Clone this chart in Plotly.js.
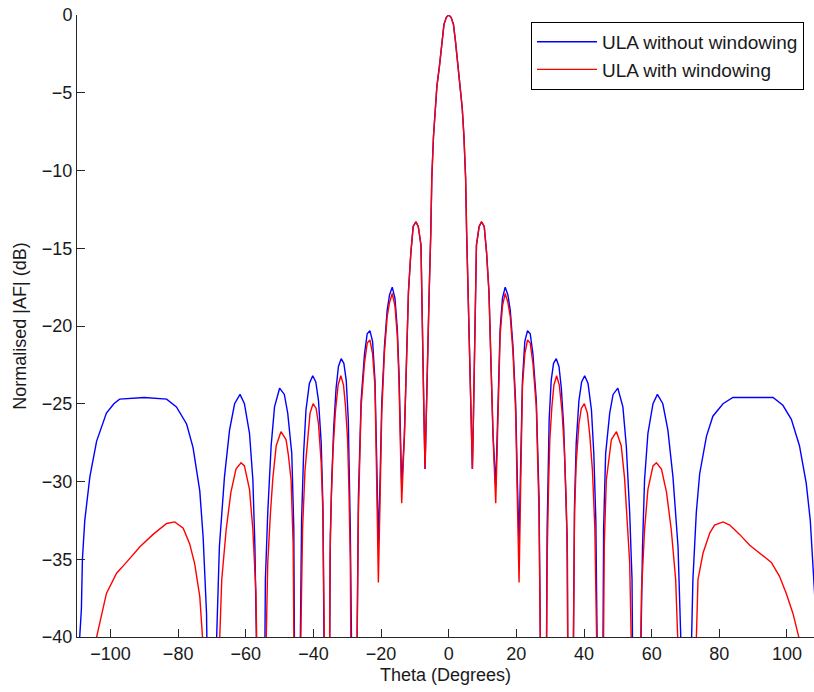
<!DOCTYPE html>
<html>
<head>
<meta charset="utf-8">
<script src="https://cdn.plot.ly/plotly-3.0.1.min.js"></script>
<style>
  html, body { margin: 0; padding: 0; background: #ffffff; }
  #chart { width: 814px; height: 692px; }
</style>
</head>
<body>
<div id="chart"></div>
<script>
// ULA without windowing (blue): theta (deg) and normalised |AF| (dB)
const thetaBlue = [
  -110, -109.1, -108.6, -108.3, -107.6, -106.1, -104.1, -101.2, -99.0, -97.3, -90.0, -83.4, -80.5, -77.5, -75.6, -73.6, -72.6, -71.6, -71.2, -70.3,
  -69.3, -67.8, -66.3, -64.8, -63.3, -61.7, -60.4, -58.9, -57.9, -57.3, -56.5, -55.5,
  -54.5, -54.2, -53.5, -52.5, -51.5, -50.0, -48.6, -47.6, -46.4, -45.8, -45.5, -44.8,
  -44.1, -43.5, -42.9, -42.2, -41.2, -40.2, -39.3, -38.5, -37.7, -37.2, -36.7, -36.0,
  -35.3, -35.0, -34.6, -34.0, -33.3, -32.6, -31.8, -31.0, -30.3, -29.7, -29.1, -28.8, -28.0,
  -27.3, -26.7, -25.9, -24.9, -24.1, -23.3, -22.5, -21.8, -21.3, -20.8,
  -20.3, -19.8, -19.0, -18.2, -17.5, -16.7, -15.9, -15.2, -14.7, -14.3, -13.9,
  -13.1, -12.4, -11.9, -11.2, -10.5, -9.7, -9.0, -8.2, -7.7, -7.3, -7.0,
  -6.7, -6.3, -5.8, -5.3, -5.0, -4.5, -4.0, -3.5, -2.75, -2.0, -1.4, -0.7, 0,
  0.7, 1.4, 2.0, 2.75, 3.5, 4.0, 4.5, 5.0, 5.3, 5.8, 6.3, 6.7, 7.0,
  7.3, 7.7, 8.2, 9.0, 9.7, 10.5, 11.2, 11.9, 12.4, 13.1, 13.9,
  14.3, 14.7, 15.2, 15.9, 16.7, 17.5, 18.2, 19.0, 19.8, 20.3, 20.8,
  21.3, 21.8, 22.5, 23.3, 24.1, 24.9, 25.9, 26.7, 27.3, 28.0,
  28.8, 29.1, 29.7, 30.3, 31.0, 31.8, 32.6, 33.3, 34.0, 34.6, 35.0, 35.3, 36.0,
  36.7, 37.2, 37.7, 38.5, 39.3, 40.2, 41.2, 42.2, 42.9, 43.5, 44.1, 44.8,
  45.5, 45.8, 46.4, 47.6, 48.6, 50.0, 51.5, 52.5, 53.5, 54.2, 54.5, 55.5,
  56.5, 57.3, 57.9, 58.9, 60.4, 61.7, 63.3, 64.8, 66.3, 67.8, 69.3, 70.3,
  71.3, 72.2, 73.2, 74.2, 76.2, 78.1, 81.1, 84.0, 90.0, 95.9, 98.8, 101.3, 103.7, 105.7, 106.9, 107.7, 108.6, 109.2, 110
];
const afBlue = [
  -46, -40, -38.2, -35.0, -32.5, -29.7, -27.4, -25.6, -25.0, -24.7, -24.6, -24.7, -25.2, -26.3, -27.8, -30.6, -33.6, -38.5, -45, -55,
  -45, -34.2, -29.7, -26.7, -25.0, -24.4, -25.0, -26.9, -29.9, -34.2, -45, -55,
  -45, -36.3, -32.0, -27.7, -25.2, -24.0, -24.4, -25.6, -28.2, -33.0, -45, -55,
  -45, -32.5, -28.2, -25.4, -23.7, -23.2, -23.6, -24.8, -27.5, -31.5, -45, -55,
  -45, -33.5, -30.0, -26.5, -24.0, -22.6, -22.1, -22.4, -23.5, -26.0, -33.0, -45, -55,
  -45, -31.0, -24.8, -21.8, -20.5, -20.3, -21.0, -23.5, -28.5, -34.0,
  -30.0, -25.0, -21.3, -19.0, -18.0, -17.5, -18.2, -20.2, -23.0, -27.0, -30.3,
  -27.0, -22.0, -17.8, -15.3, -13.6, -13.3, -13.6, -14.8, -19.8, -26.0, -29.2,
  -26.0, -22.0, -18.0, -14.0, -10.5, -7.8, -6.0, -4.6, -3.3, -1.7, -0.6, -0.15, 0,
  -0.15, -0.6, -1.7, -3.3, -4.6, -6.0, -7.8, -10.5, -14.0, -18.0, -22.0, -26.0, -29.2,
  -26.0, -19.8, -14.8, -13.6, -13.3, -13.6, -15.3, -17.8, -22.0, -27.0, -30.3,
  -27.0, -23.0, -20.2, -18.2, -17.5, -18.0, -19.0, -21.3, -25.0, -30.0, -34.0,
  -28.5, -23.5, -21.0, -20.3, -20.5, -21.8, -24.8, -31.0, -45, -55,
  -45, -33.0, -26.0, -23.5, -22.4, -22.1, -22.6, -24.0, -26.5, -30.0, -33.5, -45, -55,
  -45, -31.5, -27.5, -24.8, -23.6, -23.2, -23.7, -25.4, -28.2, -32.5, -45, -55,
  -45, -33.0, -28.2, -25.6, -24.4, -24.0, -25.2, -27.7, -32.0, -36.3, -45, -55,
  -45, -34.2, -29.9, -26.9, -25.0, -24.4, -25.0, -26.7, -29.7, -34.2, -45, -55,
  -45, -36.3, -32.0, -29.5, -27.1, -25.8, -25.0, -24.6, -24.6, -24.6, -25.1, -26.0, -27.7, -30.1, -32.5, -35.4, -38.5, -41, -46
];

// ULA with windowing (red)
const thetaRed = [
  -104.6, -104.1, -101.2, -98.2, -95.3, -91.3, -87.4, -83.4, -81.0, -78.5, -76.6, -75.1, -73.6, -72.8, -72.4, -70.6,
  -68.5, -67.1, -65.8, -64.4, -62.9, -61.4, -60.4, -58.9, -57.9, -57.0, -56.4, -55.5,
  -54.4, -53.5, -52.7, -52.0, -51.0, -49.6, -48.1, -47.4, -46.6, -46.0, -45.6, -44.8,
  -44.1, -43.2, -42.5, -41.7, -41.0, -40.1, -39.2, -38.5, -37.7, -37.2, -36.7, -36.0,
  -35.3, -35.1, -34.7, -34.2, -33.5, -32.7, -31.9, -31.1, -30.5, -29.9, -29.5, -29.1, -28.8, -28.0,
  -27.3, -26.7, -25.9, -24.9, -24.1, -23.3, -22.5, -21.8, -21.3, -20.8,
  -20.3, -19.8, -19.0, -18.2, -17.5, -16.7, -15.9, -15.2, -14.7, -14.3, -13.9,
  -13.1, -12.4, -11.9, -11.2, -10.5, -9.7, -9.0, -8.2, -7.7, -7.3, -7.0,
  -6.7, -6.3, -5.8, -5.3, -5.0, -4.5, -4.0, -3.5, -2.75, -2.0, -1.4, -0.7, 0,
  0.7, 1.4, 2.0, 2.75, 3.5, 4.0, 4.5, 5.0, 5.3, 5.8, 6.3, 6.7, 7.0,
  7.3, 7.7, 8.2, 9.0, 9.7, 10.5, 11.2, 11.9, 12.4, 13.1, 13.9,
  14.3, 14.7, 15.2, 15.9, 16.7, 17.5, 18.2, 19.0, 19.8, 20.3, 20.8,
  21.3, 21.8, 22.5, 23.3, 24.1, 24.9, 25.9, 26.7, 27.3, 28.0,
  28.8, 29.1, 29.5, 29.9, 30.5, 31.1, 31.9, 32.7, 33.5, 34.2, 34.7, 35.1, 35.3, 36.0,
  36.7, 37.2, 37.7, 38.5, 39.2, 40.1, 41.0, 41.7, 42.5, 43.2, 44.1, 44.8,
  45.6, 46.0, 46.6, 47.4, 48.1, 49.6, 51.0, 52.0, 52.7, 53.5, 54.4, 55.5,
  56.4, 57.0, 57.9, 58.9, 60.4, 61.4, 62.9, 64.4, 65.8, 67.1, 68.5, 70.6,
  72.6, 73.7, 75.2, 77.2, 78.6, 81.1, 83.1, 86.0, 89.0, 91.9, 95.4, 97.8, 99.8, 101.8, 103.5, 104.5
];
const afRed = [
  -45, -40, -37.2, -35.9, -35.2, -34.2, -33.4, -32.7, -32.6, -33.0, -34.0, -35.3, -37.4, -40, -45, -55,
  -45, -36.3, -33.1, -30.7, -29.2, -28.8, -29.0, -30.5, -33.1, -37.1, -45, -55,
  -45, -35.2, -32.0, -29.8, -27.7, -26.8, -27.3, -28.3, -29.9, -34.0, -45, -55,
  -45, -33.0, -29.3, -27.0, -25.6, -25.0, -25.3, -26.3, -28.8, -32.0, -45, -55,
  -45, -35.0, -31.0, -28.0, -25.5, -23.8, -23.2, -23.8, -25.2, -27.3, -30.5, -35.0, -45, -55,
  -45, -32.0, -25.2, -22.4, -21.1, -20.9, -21.8, -23.9, -29.9, -36.5,
  -31.2, -25.6, -21.7, -19.4, -18.5, -17.9, -18.7, -20.6, -23.6, -27.5, -31.4,
  -27.0, -22.0, -17.8, -15.3, -13.6, -13.3, -13.6, -14.8, -19.8, -26.0, -29.2,
  -26.0, -22.0, -18.0, -14.0, -10.5, -7.8, -6.0, -4.6, -3.3, -1.7, -0.6, -0.15, 0,
  -0.15, -0.6, -1.7, -3.3, -4.6, -6.0, -7.8, -10.5, -14.0, -18.0, -22.0, -26.0, -29.2,
  -26.0, -19.8, -14.8, -13.6, -13.3, -13.6, -15.3, -17.8, -22.0, -27.0, -31.4,
  -27.5, -23.6, -20.6, -18.7, -17.9, -18.5, -19.4, -21.7, -25.6, -31.2, -36.5,
  -29.9, -23.9, -21.8, -20.9, -21.1, -22.4, -25.2, -32.0, -45, -55,
  -45, -35.0, -30.5, -27.3, -25.2, -23.8, -23.2, -23.8, -25.5, -28.0, -31.0, -35.0, -45, -55,
  -45, -32.0, -28.8, -26.3, -25.3, -25.0, -25.6, -27.0, -29.3, -33.0, -45, -55,
  -45, -34.0, -29.9, -28.3, -27.3, -26.8, -27.7, -29.8, -32.0, -35.2, -45, -55,
  -45, -37.1, -33.1, -30.5, -29.0, -28.8, -29.2, -30.7, -33.1, -36.3, -45, -55,
  -45, -36.3, -34.6, -33.3, -32.8, -32.6, -32.8, -33.4, -34.1, -34.6, -35.2, -36.1, -37.2, -38.5, -40.0, -45
];

const seriesNames = ['ULA without windowing', 'ULA with windowing'];
const xTickVals = [-100, -80, -60, -40, -20, 0, 20, 40, 60, 80, 100];
const yTickVals = [0, -5, -10, -15, -20, -25, -30, -35, -40];

const FONT = 'Liberation Sans, Arial, Helvetica, sans-serif';
const AXC = '#262626';
const TXT = '#1a1a1a';

const traces = [
  { x: thetaBlue, y: afBlue, type: 'scatter', mode: 'lines', name: seriesNames[0],
    line: { color: '#0000ff', width: 1.4 } },
  { x: thetaRed, y: afRed, type: 'scatter', mode: 'lines', name: seriesNames[1],
    line: { color: '#ff0000', width: 1.4 } }
];

const layout = {
  width: 814, height: 692,
  margin: { l: 77, r: 0, t: 15, b: 55, pad: 0 },
  paper_bgcolor: '#ffffff', plot_bgcolor: '#ffffff',
  font: { family: FONT, size: 18, color: TXT },
  showlegend: true,
  legend: {
    x: 0.9864, xanchor: 'right', y: 0.989, yanchor: 'top',
    bgcolor: '#ffffff', bordercolor: '#000000', borderwidth: 1,
    font: { family: FONT, size: 19, color: TXT },
    itemwidth: 60
  },
  xaxis: {
    range: [-109.9, 108.0], autorange: false,
    tickmode: 'array', tickvals: xTickVals,
    ticks: 'inside', ticklen: 8, tickcolor: AXC, tickwidth: 1,
    showline: true, linecolor: AXC, linewidth: 1, mirror: false,
    showgrid: false, zeroline: false,
    tickfont: { family: FONT, size: 18, color: TXT },
    title: { text: 'Theta (Degrees)', font: { family: FONT, size: 18, color: TXT }, standoff: 5 }
  },
  yaxis: {
    range: [-40, 0], autorange: false,
    tickmode: 'array', tickvals: yTickVals,
    ticks: 'inside', ticklen: 8, tickcolor: AXC, tickwidth: 1,
    showline: true, linecolor: AXC, linewidth: 1, mirror: false,
    showgrid: false, zeroline: false,
    tickfont: { family: FONT, size: 18, color: TXT },
    title: { text: 'Normalised |AF| (dB)', font: { family: FONT, size: 18, color: TXT }, standoff: 10 }
  }
};

Plotly.newPlot('chart', traces, layout, { displayModeBar: false, staticPlot: true });
</script>
</body>
</html>
